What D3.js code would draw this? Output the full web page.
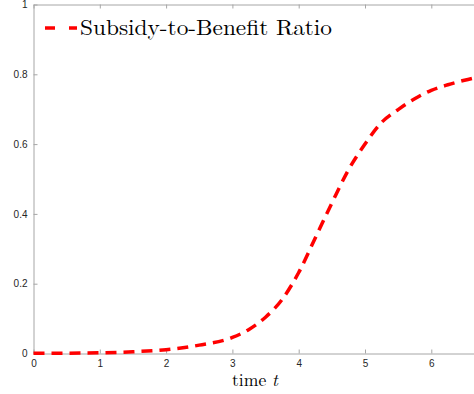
<!DOCTYPE html>
<html>
<head>
<meta charset="utf-8">
<script src="https://cdn.jsdelivr.net/npm/d3@7"></script>
<style>
  body { margin: 0; background: #fff; }
  svg { display: block; }
</style>
</head>
<body>
<script>
// values
const timeValues = [0, 0.5, 1, 1.5, 2, 2.5, 3, 3.25, 3.5, 3.75, 4, 4.25, 4.5, 4.75, 5, 5.25, 5.5, 5.75, 6, 6.25, 6.5, 6.75];
const ratioValues = [0.001, 0.001, 0.002, 0.005, 0.011, 0.024, 0.046, 0.069, 0.104, 0.155, 0.232, 0.331, 0.431, 0.526, 0.600, 0.662, 0.699, 0.730, 0.754, 0.770, 0.783, 0.794];
const xTicks = [0, 1, 2, 3, 4, 5, 6];
const yTicks = [0, 0.2, 0.4, 0.6, 0.8, 1];
const seriesName = 'Subsidy-to-Benefit Ratio';

const dataset = timeValues.map((t, i) => ({ x: t, y: ratioValues[i] }));

const W = 474, H = 394;
const margin = { left: 33.5, top: 4.5, bottom: 353.5 };
const pxPerUnit = 66.3;

const svg = d3.select('body').append('svg')
    .attr('width', W)
    .attr('height', H);

// axes box runs past the right edge of the picture
const x = d3.scaleLinear().domain([0, 8]).range([margin.left, margin.left + 8 * pxPerUnit]);
const y = d3.scaleLinear().domain([0, 1]).range([margin.bottom, margin.top]);

const axisColor = '#a6a6a6';
const labelColor = '#262626';

// bottom axis (ticks inward)
const xAxis = d3.axisBottom(x).tickValues(xTicks).tickSizeInner(-4).tickSizeOuter(0).tickPadding(6).tickFormat(d3.format('d'));
const gx = svg.append('g').attr('transform', `translate(0,${margin.bottom})`).call(xAxis);

// top axis, ticks only
const gxTop = svg.append('g').attr('transform', `translate(0,${margin.top})`)
    .call(d3.axisTop(x).tickValues(xTicks).tickSizeInner(-4).tickSizeOuter(0).tickFormat(''));

// left axis
const yAxis = d3.axisLeft(y).tickValues(yTicks).tickSizeInner(-4).tickSizeOuter(0).tickPadding(6)
    .tickFormat(d => d === 0 || d === 1 ? d3.format('d')(d) : d3.format('.1f')(d));
const gy = svg.append('g').attr('transform', `translate(${margin.left},0)`).call(yAxis);

[gx, gxTop, gy].forEach(g => {
    g.select('.domain').attr('stroke', axisColor).attr('stroke-width', 1);
    g.selectAll('.tick line').attr('stroke', axisColor);
    g.selectAll('.tick text')
        .attr('fill', labelColor)
        .style('font-family', 'Helvetica, Arial, "Liberation Sans", sans-serif')
        .style('font-size', '10px');
});

// curve
const line = d3.line()
    .curve(d3.curveMonotoneX)
    .x(d => x(d.x))
    .y(d => y(d.y));

svg.append('path')
    .datum(dataset)
    .attr('fill', 'none')
    .attr('stroke', '#ff0000')
    .attr('stroke-width', 3.5)
    .attr('stroke-dasharray', '11,7')
    .attr('d', line);

// legend
svg.append('line')
    .attr('x1', 45).attr('x2', 77)
    .attr('y1', 28).attr('y2', 28)
    .attr('stroke', '#ff0000')
    .attr('stroke-width', 3.5)
    .attr('stroke-dasharray', '10,14');

svg.append('text')
    .attr('x', 80)
    .attr('y', 35)
    .attr('textLength', 252)
    .attr('lengthAdjust', 'spacingAndGlyphs')
    .style('font-family', '"Latin Modern Roman", "CMU Serif", "Liberation Serif", "Times New Roman", serif')
    .style('font-size', '22px')
    .attr('fill', '#000')
    .text(seriesName);

// x label
const xl = svg.append('text')
    .attr('x', 232)
    .attr('y', 386)
    .attr('textLength', 46)
    .attr('lengthAdjust', 'spacingAndGlyphs')
    .style('font-family', '"Latin Modern Roman", "CMU Serif", "Liberation Serif", "Times New Roman", serif')
    .style('font-size', '17px')
    .attr('fill', '#000');
xl.append('tspan').text('time ');
xl.append('tspan').style('font-style', 'italic').text('t');
</script>
</body>
</html>
